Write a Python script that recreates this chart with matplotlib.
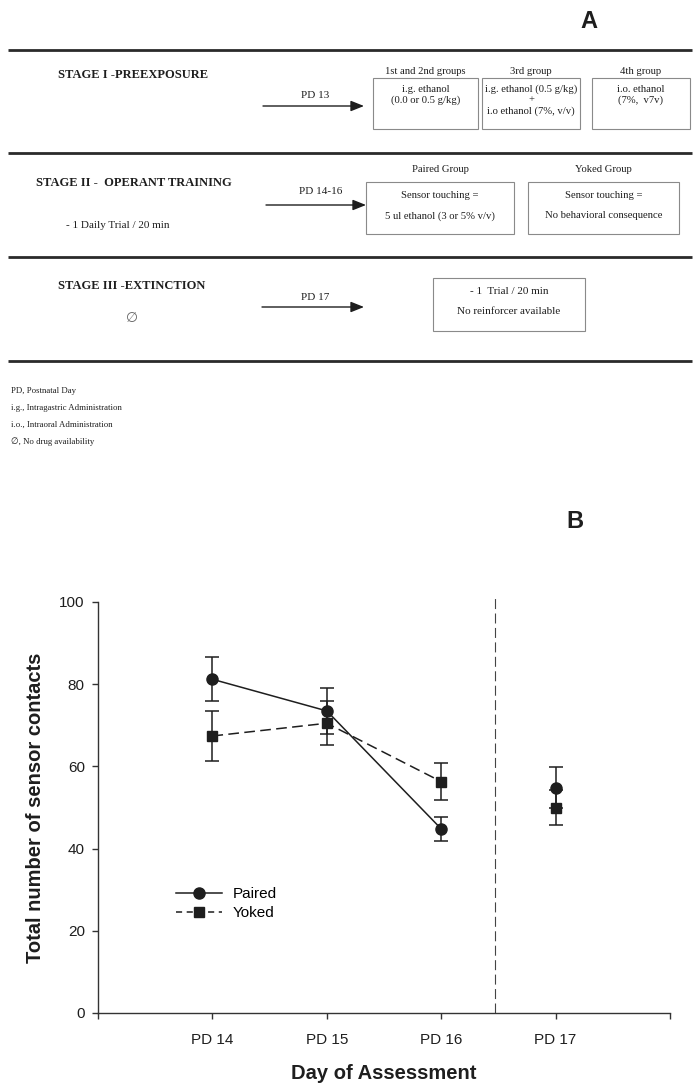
import matplotlib.pyplot as plt
from matplotlib.lines import Line2D
from matplotlib.patches import Rectangle

# --- Panel B data ---
days = ["PD 14", "PD 15", "PD 16", "PD 17"]
day_pos = [1, 2, 3, 4]
paired_mean = [81.2, 73.5, 44.8, 54.8]
paired_sem = [5.3, 5.5, 3.0, 5.0]
yoked_mean = [67.4, 70.5, 56.3, 50.0]
yoked_sem = [6.0, 5.3, 4.5, 4.3]
split_day = 3.47   # dashed line between training and extinction

# --- Panel A texts ---
stage_titles = ["STAGE I -PREEXPOSURE", "STAGE II -  OPERANT TRAINING", "STAGE III -EXTINCTION"]
arrow_labels = ["PD 13", "PD 14-16", "PD 17"]
stage1_groups = ["1st and 2nd groups", "3rd group", "4th group"]
stage1_boxes = [["i.g. ethanol", "(0.0 or 0.5 g/kg)"],
                ["i.g. ethanol (0.5 g/kg)", "+", "i.o ethanol (7%, v/v)"],
                ["i.o. ethanol", "(7%,  v7v)"]]
stage2_groups = ["Paired Group", "Yoked Group"]
stage2_boxes = [["Sensor touching =", "5 ul ethanol (3 or 5% v/v)"],
                ["Sensor touching =", "No behavioral consequence"]]
stage3_box = ["- 1  Trial / 20 min", "No reinforcer available"]
footnotes = ["PD, Postnatal Day", "i.g., Intragastric Administration",
             "i.o., Intraoral Administration", "\u2205, No drug availability"]

ink = "#1e1e1e"
serif = ["Liberation Serif", "DejaVu Sans"]
sans = ["Liberation Sans", "DejaVu Sans"]

fig = plt.figure(figsize=(7, 10.88), dpi=100)

# ---------------- Panel A (schematic, pixel coords) ----------------
axA = fig.add_axes([0, 0, 1, 1])
axA.set_xlim(0, 700)
axA.set_ylim(1088, 0)
axA.axis("off")

axA.text(589, 21, "A", fontsize=17, fontweight="bold", family=sans,
         ha="center", va="center", color=ink)

for y in [50, 153, 257, 361]:
    axA.plot([8, 692], [y, y], color="#2a2a2a", lw=2.0, solid_capstyle="butt")

def tx(x, y, s, size=7.7, ha="center", weight="normal", color=ink):
    axA.text(x, y, s, fontsize=size, family=serif, ha=ha, va="center",
             fontweight=weight, color=color)

def box(x0, x1, y0, y1):
    axA.add_patch(Rectangle((x0, y0), x1 - x0, y1 - y0, fill=False,
                            edgecolor="#8a8a8a", lw=0.8))

def arrow(x0, x1, y):
    axA.annotate("", xy=(x1, y), xytext=(x0, y),
                 arrowprops=dict(arrowstyle="-|>,head_length=0.8,head_width=0.32",
                                 color=ink, lw=1.0, shrinkA=0, shrinkB=0))

# Stage I
tx(58, 75, stage_titles[0], size=9, ha="left", weight="bold")
tx(315, 95, arrow_labels[0], size=8)
arrow(263, 364, 106)
b1 = [(373, 478), (482, 580), (592, 690)]
for (x0, x1), g, lines in zip(b1, stage1_groups, stage1_boxes):
    box(x0, x1, 78, 129)
    xc = (x0 + x1) / 2
    tx(xc, 71, g)
    for k, s in enumerate(lines):
        tx(xc, 89 + 11 * k, s)

# Stage II
tx(36, 183, stage_titles[1], size=9, ha="left", weight="bold")
tx(66, 226, "- 1 Daily Trial / 20 min", size=8, ha="left")
tx(321, 192, arrow_labels[1], size=8)
arrow(266, 366, 205)
b2 = [(366, 514), (528, 679)]
for (x0, x1), g, lines in zip(b2, stage2_groups, stage2_boxes):
    box(x0, x1, 182, 234)
    xc = (x0 + x1) / 2
    tx(xc, 169, g)
    tx(xc, 196, lines[0])
    tx(xc, 216, lines[1])

# Stage III
tx(58, 286, stage_titles[2], size=9, ha="left", weight="bold")
axA.text(132, 318, "\u2205", fontsize=10, family=["DejaVu Sans"], style="italic",
         ha="center", va="center", color="#666666")
tx(315, 298, arrow_labels[2], size=8)
arrow(262, 364, 307)
box(433, 585, 278, 331)
tx(509, 291, stage3_box[0], size=8)
tx(509, 312, stage3_box[1], size=8)

# footnotes
for k, s in enumerate(footnotes):
    tx(11, 391 + 17 * k, s, size=6.3, ha="left")

# ---------------- Panel B (chart) ----------------
axA.text(575, 522, "B", fontsize=17, fontweight="bold", family=sans,
         ha="center", va="center", color=ink)

ax = fig.add_axes([98 / 700, 1 - 1013 / 1088, 572 / 700, 411 / 1088])
ax.patch.set_alpha(0)

ax.plot(day_pos[:3], paired_mean[:3], color=ink, lw=1.1, ls="-")
ax.plot(day_pos[:3], yoked_mean[:3], color=ink, lw=1.1, ls=(0, (7, 3.5)))
ax.errorbar(day_pos, yoked_mean, yerr=yoked_sem, fmt="s", ms=7, color=ink,
            ecolor=ink, elinewidth=1.1, capsize=4.7, capthick=1.1)
ax.errorbar(day_pos, paired_mean, yerr=paired_sem, fmt="o", ms=8, color=ink,
            ecolor=ink, elinewidth=1.1, capsize=4.7, capthick=1.1)

ax.vlines(split_day, 0, 101.8, colors="#444444", lw=0.8,
          linestyles=(0, (9, 4)), clip_on=False)

ax.set_xlim(0, 5)
ax.set_ylim(0, 100)
ax.set_xticks([0, 1, 2, 3, 4, 5])
ax.set_xticklabels([""] + days + [""])
ax.set_yticks([0, 20, 40, 60, 80, 100])
for s in ["top", "right"]:
    ax.spines[s].set_visible(False)
for s in ["left", "bottom"]:
    ax.spines[s].set_color("#333333")
    ax.spines[s].set_linewidth(1.0)
ax.tick_params(direction="out", length=4.5, width=1.0, color="#333333",
               labelsize=11, labelcolor=ink, pad=5)
ax.tick_params(axis="x", pad=10)
for lab in ax.get_xticklabels() + ax.get_yticklabels():
    lab.set_family(sans)

ax.set_xlabel("Day of Assessment", fontsize=14.5, fontweight="bold",
              family=sans, color=ink, labelpad=12)
ax.set_ylabel("Total number of sensor contacts", fontsize=14.5,
              fontweight="bold", family=sans, color=ink, labelpad=10)

handles = [Line2D([], [], color=ink, lw=1.1, marker="o", ms=8),
           Line2D([], [], color=ink, lw=1.1, ls=(0, (4, 3)), marker="s", ms=7)]
ax.legend(handles, ["Paired", "Yoked"], loc="upper left",
          bbox_to_anchor=((176 - 98) / 572, (1013 - 887) / 411),
          frameon=False, handlelength=3.0, handletextpad=0.7,
          labelspacing=0.35, borderpad=0, borderaxespad=0,
          prop={"family": sans, "size": 11})

fig.savefig("out.png", dpi=100)
